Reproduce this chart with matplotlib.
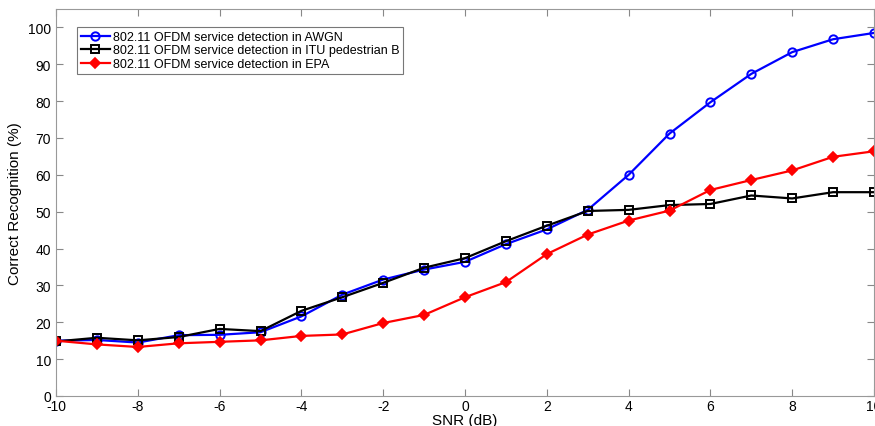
import numpy as np
import matplotlib
matplotlib.use('Agg')
import matplotlib.pyplot as plt

plt.rcParams['font.family'] = ['Liberation Sans', 'DejaVu Sans']
plt.rcParams['axes.unicode_minus'] = False

snr = [-10, -9, -8, -7, -6, -5, -4, -3, -2, -1, 0, 1, 2, 3, 4, 5, 6, 7, 8, 9, 10]

awgn = [15.0, 15.2, 14.5, 16.5, 16.6, 17.3, 21.6, 27.5, 31.6, 34.3, 36.4, 41.2, 45.2,
        50.5, 60.0, 71.2, 79.7, 87.4, 93.3, 96.8, 98.5]
itu_ped_b = [14.8, 15.8, 15.1, 16.0, 18.2, 17.6, 23.1, 26.8, 30.7, 34.8, 37.4, 42.0, 46.2,
             50.2, 50.5, 51.8, 52.1, 54.4, 53.6, 55.3, 55.3]
epa = [15.0, 14.0, 13.3, 14.3, 14.7, 15.1, 16.3, 16.7, 19.8, 22.0, 26.8, 30.9, 38.5,
       43.8, 47.6, 50.3, 55.9, 58.6, 61.2, 64.9, 66.4]

labels = ['802.11 OFDM service detection in AWGN',
          '802.11 OFDM service detection in ITU pedestrian B',
          '802.11 OFDM service detection in EPA']

fig = plt.figure(figsize=(8.75, 4.27), dpi=100)
ax = fig.add_axes([56 / 875, 30 / 427, 818 / 875, 387 / 427])

ax.plot(snr, awgn, '-o', color='#0000ff', lw=1.6, ms=6, mfc='none', mew=1.4, label=labels[0])
ax.plot(snr, itu_ped_b, '-s', color='black', lw=1.6, ms=5.5, mfc='none', mew=1.4, label=labels[1])
ax.plot(snr, epa, '-D', color='#ff0000', lw=1.6, ms=5, mfc='red', mew=1.2, label=labels[2])

ax.set_xlim(-10, 10)
ax.set_ylim(0, 105)
ax.set_xticks(range(-10, 11, 2))
ax.set_yticks(range(0, 101, 10))
ax.tick_params(direction='in', top=True, right=True, labelsize=10, length=5, color='#888888')
ax.tick_params(axis='x', pad=2)
for s in ax.spines.values():
    s.set_color('#999999')

ax.set_xlabel('SNR (dB)', fontsize=11, labelpad=0)
ax.set_ylabel('Correct Recognition (%)', fontsize=11, labelpad=4)

leg = ax.legend(loc='upper left', bbox_to_anchor=(0.0257, 0.953), fontsize=9,
                fancybox=False, edgecolor='#555555', handlelength=2.3,
                borderpad=0.3, labelspacing=0.12, handletextpad=0.25, borderaxespad=0)
leg.get_frame().set_linewidth(0.8)

fig.savefig('out.png', dpi=100)
